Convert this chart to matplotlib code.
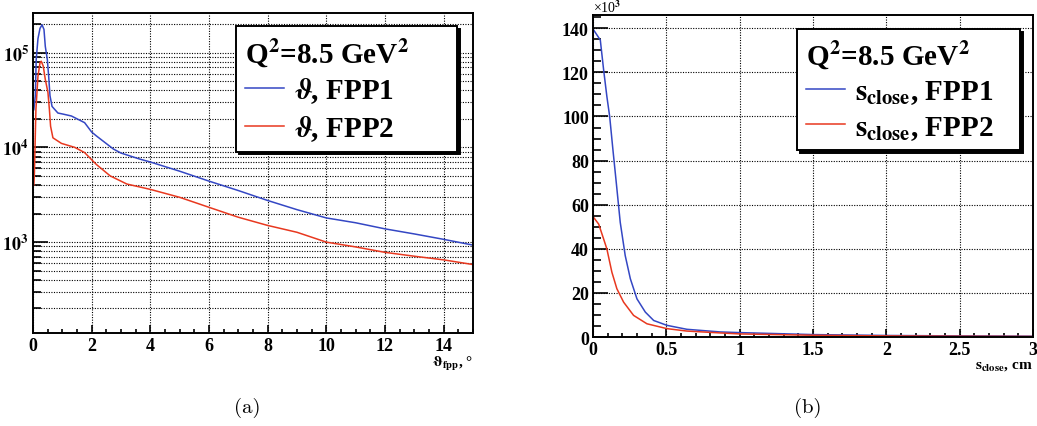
import numpy as np
import matplotlib
matplotlib.use("Agg")
import matplotlib.pyplot as plt
from matplotlib.ticker import MultipleLocator, LogLocator, FuncFormatter, NullFormatter

SERIF = ['Liberation Serif', 'STIXGeneral', 'DejaVu Serif']
plt.rcParams['mathtext.fontset'] = 'stix'
plt.rcParams['font.family'] = SERIF
plt.rcParams['font.weight'] = 'bold'

# (a) theta_fpp histograms, counts per bin
theta_x = [0.03, 0.08, 0.11, 0.17, 0.24, 0.31, 0.375, 0.42, 0.49, 0.535, 0.58, 0.65, 0.85,
           1.0, 1.31, 1.76, 2.0, 2.16, 2.74, 3.0, 3.65, 4.0, 5.0, 6.0, 7.0, 8.0, 9.0,
           10.0, 11.0, 12.0, 13.0, 14.0, 15.0]
fpp1_theta = [2.5e4, 3.5e4, 8.4e4, 1.4e5, 1.8e5, 1.96e5, 1.75e5, 1.16e5, 8.4e4, 5.6e4, 3.5e4,
              2.7e4, 2.3e4, 2.25e4, 2.14e4, 1.82e4, 1.45e4, 1.32e4, 9.6e3, 8.7e3, 7.5e3,
              7.0e3, 5.6e3, 4.4e3, 3.5e3, 2.75e3, 2.2e3, 1.8e3, 1.6e3, 1.38e3, 1.22e3,
              1.07e3, 0.93e3]
theta_x2 = [0.03, 0.05, 0.1, 0.17, 0.24, 0.28, 0.35, 0.42, 0.51, 0.56, 0.6, 0.68, 0.97,
            1.42, 1.76, 2.16, 2.63, 3.2, 4.0, 5.0, 6.0, 7.0, 8.0, 9.0, 10.0, 11.0,
            12.0, 13.0, 14.0, 15.0]
fpp2_theta = [4.0e3, 5.5e3, 2.5e4, 5.6e4, 7.8e4, 8.1e4, 7.2e4, 5.2e4, 3.8e4, 2.5e4, 1.67e4,
              1.26e4, 1.1e4, 1.0e4, 8.8e3, 6.6e3, 5.0e3, 4.1e3, 3.6e3, 2.97e3, 2.33e3,
              1.83e3, 1.5e3, 1.27e3, 1.0e3, 0.89e3, 0.78e3, 0.71e3, 0.65e3, 0.58e3]

# (b) s_close histograms, counts per bin
s_x = [0.005, 0.05, 0.073, 0.095, 0.114, 0.136, 0.159, 0.186, 0.22, 0.255, 0.30, 0.357,
       0.414, 0.504, 0.64, 0.868, 1.0, 1.5, 2.0, 2.5, 3.0]
fpp1_s = [139.2e3, 134.7e3, 121e3, 109e3, 100e3, 85e3, 70e3, 52e3, 36.9e3, 26.4e3, 17.3e3,
          11.3e3, 7.5e3, 5.3e3, 3.5e3, 2.3e3, 2.0e3, 1.1e3, 0.7e3, 0.5e3, 0.35e3]
s_x2 = [0.005, 0.039, 0.073, 0.095, 0.129, 0.163, 0.209, 0.277, 0.368, 0.504, 0.64, 0.868,
        1.0, 1.5, 2.0, 2.5, 3.0]
fpp2_s = [54.2e3, 51.2e3, 44.4e3, 39.9e3, 29.4e3, 21.9e3, 15.8e3, 9.8e3, 6.0e3, 3.8e3, 2.7e3,
          1.85e3, 1.4e3, 0.8e3, 0.5e3, 0.35e3, 0.25e3]

BLUE = '#3447c4'
RED = '#e8381f'

fig = plt.figure(figsize=(10.37, 4.27), dpi=100)
ax1 = fig.add_axes([0.0318, 0.2178, 0.4243, 0.749])
ax2 = fig.add_axes([0.5718, 0.2084, 0.4243, 0.754])

grid_kw = dict(color='black', linestyle=(0, (1, 1.3)), linewidth=0.8)


def style(ax):
    for s in ax.spines.values():
        s.set_linewidth(1.4)
    ax.tick_params(which='both', direction='in', top=False, right=False, width=1.2,
                   labelsize=13, pad=3)
    ax.tick_params(axis='y', which='major', length=11)
    ax.tick_params(axis='y', which='minor', length=5.5)
    ax.tick_params(axis='x', which='major', length=6)
    ax.tick_params(axis='x', which='minor', length=3)


# ---- panel (a)
ax1.plot(theta_x, fpp1_theta, color=BLUE, lw=1.1, label=r'$\vartheta$, FPP1')
ax1.plot(theta_x2, fpp2_theta, color=RED, lw=1.1, label=r'$\vartheta$, FPP2')
ax1.set_yscale('log')
ax1.set_xlim(0, 15)
ax1.set_ylim(110, 2.6e5)
ax1.xaxis.set_major_locator(MultipleLocator(2))
ax1.xaxis.set_minor_locator(MultipleLocator(0.5))
ax1.yaxis.set_major_locator(LogLocator(base=10))
ax1.yaxis.set_minor_locator(LogLocator(base=10, subs=np.arange(2, 10)))
ax1.yaxis.set_minor_formatter(NullFormatter())
ax1.yaxis.set_major_formatter(FuncFormatter(lambda v, p: r'$\mathbf{10^{%d}}$' % round(np.log10(v))))
ax1.xaxis.set_major_formatter(FuncFormatter(lambda v, p: '%d' % v if v < 15 else ''))
ax1.grid(True, which='major', axis='x', **grid_kw)
ax1.grid(True, which='both', axis='y', **grid_kw)
style(ax1)
ax1.text(1.0, -0.095, r'$\mathbf{\vartheta_{fpp}}$, °', transform=ax1.transAxes,
         ha='right', va='center', fontsize=11)

# ---- panel (b)
ax2.plot(s_x, fpp1_s, color=BLUE, lw=1.1, label=r'$\mathbf{s_{close}}$, FPP1')
ax2.plot(s_x2, fpp2_s, color=RED, lw=1.1, label=r'$\mathbf{s_{close}}$, FPP2')
ax2.set_xlim(0, 3)
ax2.set_ylim(0, 146e3)
ax2.xaxis.set_major_locator(MultipleLocator(0.5))
ax2.xaxis.set_minor_locator(MultipleLocator(0.1))
ax2.yaxis.set_major_locator(MultipleLocator(20e3))
ax2.yaxis.set_minor_locator(MultipleLocator(5e3))
ax2.yaxis.set_major_formatter(FuncFormatter(lambda v, p: '%d' % round(v / 1e3)))
ax2.xaxis.set_major_formatter(FuncFormatter(lambda v, p: '%g' % v))
ax2.grid(True, which='major', **grid_kw)
style(ax2)
ax2.text(0.0, 1.0, r'×10$^{3}$', transform=ax2.transAxes, ha='left', va='bottom',
         fontsize=10, fontweight='normal')
ax2.text(1.0, -0.09, r'$\mathbf{s_{close}}$, cm', transform=ax2.transAxes,
         ha='right', va='center', fontsize=11)

# legends
for ax, box in ((ax1, (0.461, 0.566, 0.503, 0.393)), (ax2, (0.4636, 0.568, 0.507, 0.389))):
    leg = ax.legend(loc='upper left', bbox_to_anchor=box, mode='expand',
                    title=r'Q$^{\mathbf{2}}$=8.5 GeV$^{\mathbf{2}}$',
                    alignment='left', fancybox=False, framealpha=1, edgecolor='black',
                    prop=dict(family=SERIF, weight='bold', size=21),
                    title_fontproperties=dict(family=SERIF, weight='bold', size=21),
                    handlelength=1.35, handletextpad=0.35, borderpad=0.3, labelspacing=0.26,
                    borderaxespad=0, shadow=dict(color='black', alpha=1))
    leg.get_frame().set_linewidth(1.4)
    leg.set_zorder(5)

fig.text(247 / 1037, 1 - 408 / 427, '(a)', ha='center', va='center', fontsize=15,
         fontfamily='cmr10', fontweight='normal')
fig.text(808 / 1037, 1 - 408 / 427, '(b)', ha='center', va='center', fontsize=15,
         fontfamily='cmr10', fontweight='normal')

fig.savefig('out.png', dpi=100)
